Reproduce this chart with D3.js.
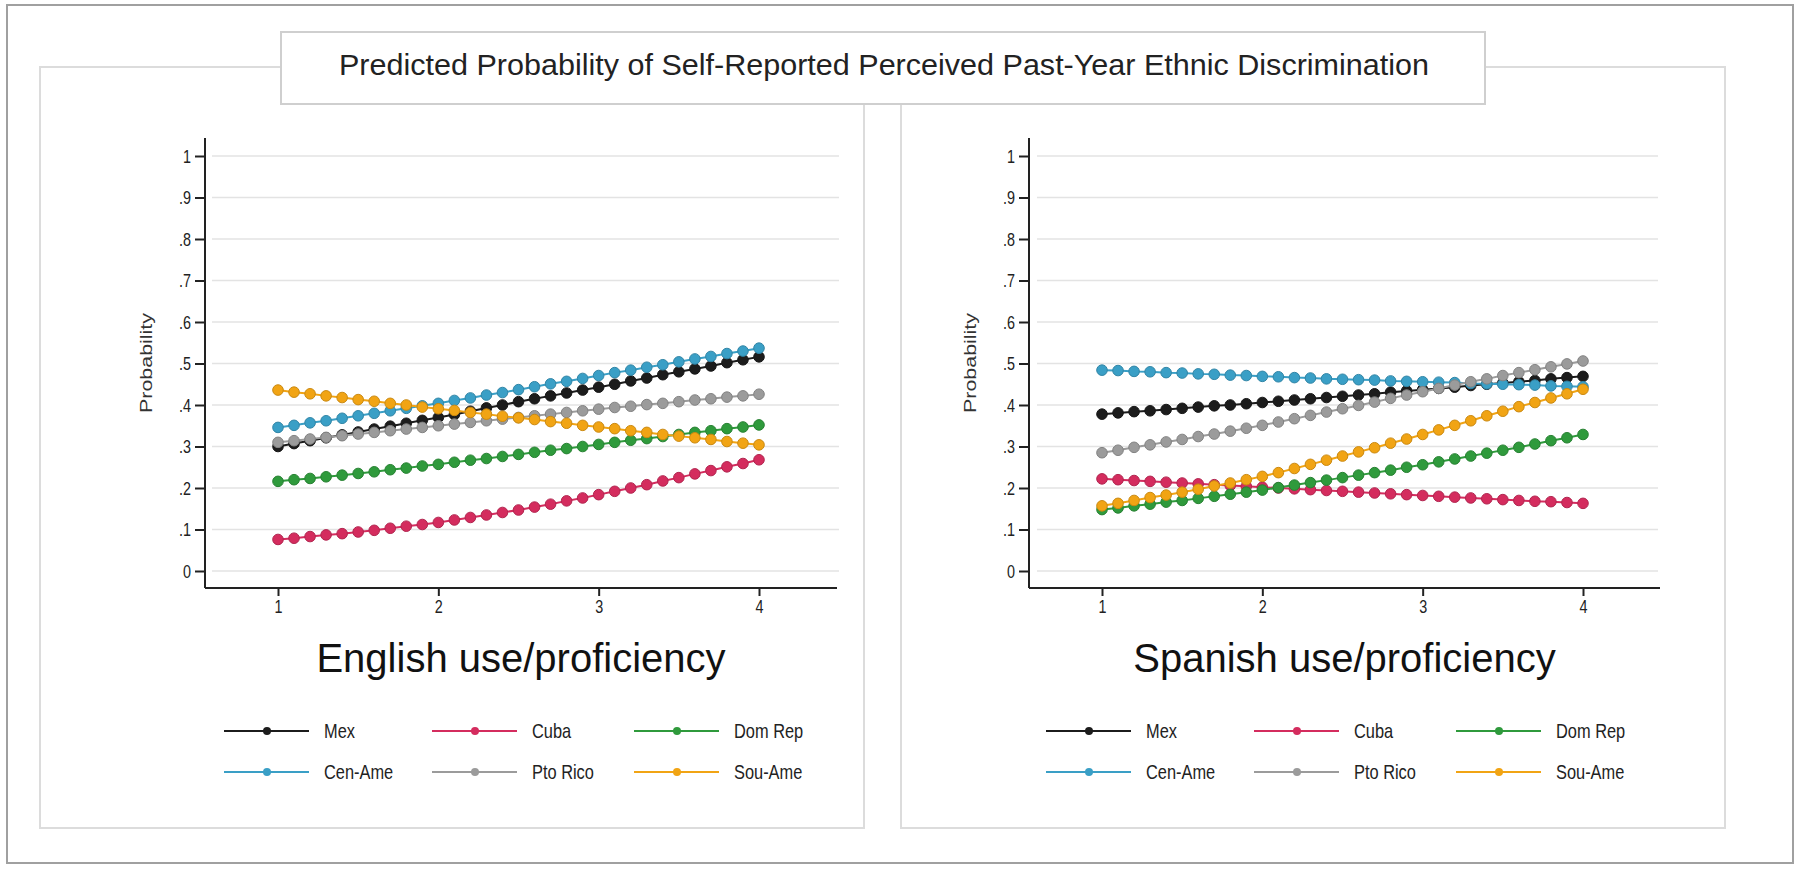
<!DOCTYPE html>
<html>
<head>
<meta charset="utf-8">
<script src="https://cdn.jsdelivr.net/npm/d3@7"></script>
<style>
html,body{margin:0;padding:0;background:#fff;}
svg{display:block;font-family:"Liberation Sans",Arial,sans-serif;}
</style>
</head>
<body>
<svg id="chart" width="1800" height="871"></svg>
<script>
const chartTitle = "Predicted Probability of Self-Reported Perceived Past-Year Ethnic Discrimination";
const groups = ["Mex", "Cuba", "Dom Rep", "Cen-Ame", "Pto Rico", "Sou-Ame"];
const groupColors = ["#1c1c1c", "#d42c5e", "#2f9a3c", "#3a9fc6", "#9b9b9b", "#f1a414"];
const xValues = [1.0,1.1,1.2,1.3,1.4,1.5,1.6,1.7,1.8,1.9,2.0,2.1,2.2,2.3,2.4,2.5,2.6,2.7,2.8,2.9,3.0,3.1,3.2,3.3,3.4,3.5,3.6,3.7,3.8,3.9,4.0];
const xTicks = [1, 2, 3, 4];
const yTicks = [0, 0.1, 0.2, 0.3, 0.4, 0.5, 0.6, 0.7, 0.8, 0.9, 1];
const yTickLabels = ["0", ".1", ".2", ".3", ".4", ".5", ".6", ".7", ".8", ".9", "1"];
const panelTitles = ["English use/proficiency", "Spanish use/proficiency"];
const yAxisTitle = "Probability";

// English panel
const engMex    = [0.300,0.307,0.314,0.321,0.328,0.335,0.342,0.349,0.356,0.363,0.370,0.377,0.385,0.393,0.400,0.408,0.415,0.422,0.429,0.436,0.443,0.450,0.458,0.465,0.473,0.480,0.487,0.494,0.502,0.509,0.516];
const engCuba   = [0.076,0.079,0.083,0.087,0.090,0.094,0.098,0.103,0.108,0.112,0.117,0.123,0.129,0.135,0.141,0.147,0.154,0.161,0.169,0.176,0.184,0.192,0.200,0.208,0.217,0.225,0.234,0.242,0.251,0.259,0.268];
const engDomRep = [0.216,0.220,0.223,0.227,0.231,0.235,0.239,0.244,0.248,0.253,0.257,0.262,0.267,0.271,0.276,0.281,0.286,0.291,0.295,0.300,0.305,0.310,0.315,0.319,0.324,0.329,0.334,0.338,0.343,0.347,0.352];
const engCenAme = [0.346,0.351,0.357,0.362,0.368,0.374,0.380,0.386,0.392,0.398,0.404,0.411,0.417,0.424,0.430,0.437,0.444,0.451,0.457,0.464,0.471,0.478,0.484,0.491,0.497,0.504,0.511,0.517,0.524,0.530,0.537];
const engPtoRico= [0.310,0.314,0.318,0.322,0.326,0.330,0.334,0.338,0.342,0.346,0.350,0.354,0.358,0.362,0.366,0.370,0.374,0.378,0.382,0.386,0.390,0.394,0.397,0.401,0.404,0.408,0.412,0.415,0.419,0.422,0.426];
const engSouAme = [0.436,0.431,0.427,0.422,0.418,0.413,0.409,0.404,0.400,0.395,0.391,0.387,0.382,0.378,0.373,0.369,0.365,0.360,0.356,0.351,0.347,0.343,0.338,0.334,0.329,0.325,0.321,0.317,0.312,0.308,0.304];

// Spanish panel
const spaMex    = [0.378,0.381,0.384,0.386,0.389,0.392,0.395,0.398,0.400,0.403,0.406,0.409,0.412,0.415,0.418,0.421,0.424,0.427,0.431,0.434,0.437,0.440,0.443,0.447,0.450,0.453,0.456,0.459,0.463,0.466,0.469];
const spaCuba   = [0.222,0.220,0.218,0.216,0.214,0.212,0.210,0.208,0.206,0.204,0.202,0.200,0.198,0.196,0.194,0.192,0.190,0.188,0.186,0.184,0.182,0.180,0.178,0.176,0.174,0.172,0.170,0.168,0.167,0.165,0.163];
const spaDomRep = [0.148,0.152,0.157,0.161,0.166,0.170,0.175,0.180,0.185,0.190,0.195,0.201,0.207,0.213,0.219,0.225,0.231,0.237,0.243,0.250,0.256,0.263,0.270,0.277,0.284,0.291,0.298,0.306,0.314,0.321,0.329];
const spaCenAme = [0.484,0.483,0.481,0.480,0.478,0.477,0.475,0.474,0.472,0.471,0.469,0.468,0.466,0.465,0.463,0.462,0.461,0.460,0.458,0.457,0.456,0.455,0.454,0.452,0.451,0.450,0.449,0.448,0.446,0.445,0.444];
const spaPtoRico= [0.285,0.291,0.298,0.304,0.311,0.317,0.324,0.330,0.337,0.344,0.351,0.359,0.367,0.375,0.383,0.391,0.399,0.407,0.416,0.424,0.432,0.440,0.448,0.456,0.463,0.471,0.478,0.485,0.492,0.499,0.506];
const spaSouAme = [0.157,0.163,0.170,0.177,0.183,0.190,0.197,0.205,0.212,0.220,0.228,0.237,0.247,0.257,0.267,0.277,0.287,0.297,0.308,0.318,0.329,0.340,0.351,0.362,0.374,0.385,0.396,0.406,0.417,0.427,0.438];

const engSeries = [engMex, engCuba, engDomRep, engCenAme, engPtoRico, engSouAme];
const spaSeries = [spaMex, spaCuba, spaDomRep, spaCenAme, spaPtoRico, spaSouAme];

const svg = d3.select("#chart");

// outer frame
svg.append("rect").attr("x", 7).attr("y", 5).attr("width", 1786).attr("height", 858)
  .attr("fill", "#fff").attr("stroke", "#a0a0a0").attr("stroke-width", 2);

const panels = [
  {box: [40, 67, 824, 761], axisX: 205, axisRight: 837, gridLeft: 212, gridRight: 839, series: engSeries, title: panelTitles[0], legendX: 224},
  {box: [901, 67, 824, 761], axisX: 1029, axisRight: 1660, gridLeft: 1037, gridRight: 1658, series: spaSeries, title: panelTitles[1], legendX: 1046}
];

const yScale = d3.scaleLinear().domain([0, 1]).range([571, 156]);
const axisY = 588;

panels.forEach(p => {
  const g = svg.append("g");
  g.append("rect").attr("x", p.box[0]).attr("y", p.box[1]).attr("width", p.box[2]).attr("height", p.box[3])
    .attr("fill", "#fff").attr("stroke", "#dcdcdc").attr("stroke-width", 2);

  const x0 = p.axisX + 73;
  const xScale = d3.scaleLinear().domain([1, 4]).range([x0, x0 + 481]);

  // gridlines
  g.append("g").selectAll("line").data(yTicks).join("line")
    .attr("x1", p.gridLeft).attr("x2", p.gridRight)
    .attr("y1", d => yScale(d)).attr("y2", d => yScale(d))
    .attr("stroke", "#e3e3e3").attr("stroke-width", 1.6);

  // y axis
  const yAxis = d3.axisLeft(yScale).tickValues(yTicks).tickSize(10).tickPadding(4)
    .tickFormat((d, i) => yTickLabels[i]);
  const ya = g.append("g").attr("transform", `translate(${p.axisX},0)`).call(yAxis);
  ya.select(".domain").remove();
  ya.selectAll(".tick line").attr("stroke", "#222").attr("stroke-width", 2);
  ya.selectAll(".tick text").attr("font-size", 19).attr("fill", "#222")
    .attr("textLength", (d, i) => yTickLabels[i].length > 1 ? 12 : 8).attr("lengthAdjust", "spacingAndGlyphs");
  g.append("line").attr("x1", p.axisX).attr("x2", p.axisX).attr("y1", 138).attr("y2", axisY)
    .attr("stroke", "#222").attr("stroke-width", 2);

  // x axis
  const xAxis = d3.axisBottom(xScale).tickValues(xTicks).tickSize(8).tickPadding(4).tickFormat(d3.format("d"));
  const xa = g.append("g").attr("transform", `translate(0,${axisY})`).call(xAxis);
  xa.select(".domain").remove();
  xa.selectAll(".tick line").attr("stroke", "#222").attr("stroke-width", 2);
  xa.selectAll(".tick text").attr("font-size", 19).attr("fill", "#222")
    .attr("textLength", 8).attr("lengthAdjust", "spacingAndGlyphs");
  g.append("line").attr("x1", p.axisX).attr("x2", p.axisRight).attr("y1", axisY).attr("y2", axisY)
    .attr("stroke", "#222").attr("stroke-width", 2);

  // y title
  g.append("text").attr("transform", `translate(${p.axisX - 53},363) rotate(-90)`)
    .attr("text-anchor", "middle").attr("font-size", 17).attr("fill", "#333")
    .attr("textLength", 100).attr("lengthAdjust", "spacingAndGlyphs")
    .text(yAxisTitle);

  // x title
  g.append("text").attr("x", (p.axisX + p.axisRight) / 2).attr("y", 672)
    .attr("text-anchor", "middle").attr("font-size", 40).attr("fill", "#111")
    .text(p.title);

  // series
  const line = d3.line().x((d, i) => xScale(xValues[i])).y(d => yScale(d));
  p.series.forEach((vals, si) => {
    const c = groupColors[si];
    g.append("path").datum(vals).attr("d", line).attr("fill", "none")
      .attr("stroke", c).attr("stroke-width", 2);
    g.append("g").selectAll("circle").data(vals).join("circle")
      .attr("cx", (d, i) => xScale(xValues[i])).attr("cy", d => yScale(d)).attr("r", 5.3)
      .attr("fill", c).attr("stroke", d3.color(c).darker(0.5)).attr("stroke-width", 1);
  });

  // legend
  const colOff = [0, 208, 410];
  const rowY = [731, 772];
  groups.forEach((name, i) => {
    const lx = p.legendX + colOff[i % 3];
    const ly = rowY[Math.floor(i / 3)];
    const c = groupColors[i];
    g.append("line").attr("x1", lx).attr("x2", lx + 85).attr("y1", ly).attr("y2", ly)
      .attr("stroke", c).attr("stroke-width", 2);
    g.append("circle").attr("cx", lx + 43).attr("cy", ly).attr("r", 4).attr("fill", c);
    g.append("text").attr("transform", `translate(${lx + 100},${ly + 7}) scale(0.82,1)`)
      .attr("font-size", 20).attr("fill", "#222")
      .text(name);
  });
});

// title box
svg.append("rect").attr("x", 281).attr("y", 32).attr("width", 1204).attr("height", 72)
  .attr("fill", "#fff").attr("stroke", "#cfcfcf").attr("stroke-width", 2);
svg.append("text").attr("x", 884).attr("y", 75).attr("text-anchor", "middle")
  .attr("font-size", 29).attr("fill", "#222")
  .attr("textLength", 1090).attr("lengthAdjust", "spacingAndGlyphs")
  .text(chartTitle);
</script>
</body>
</html>
